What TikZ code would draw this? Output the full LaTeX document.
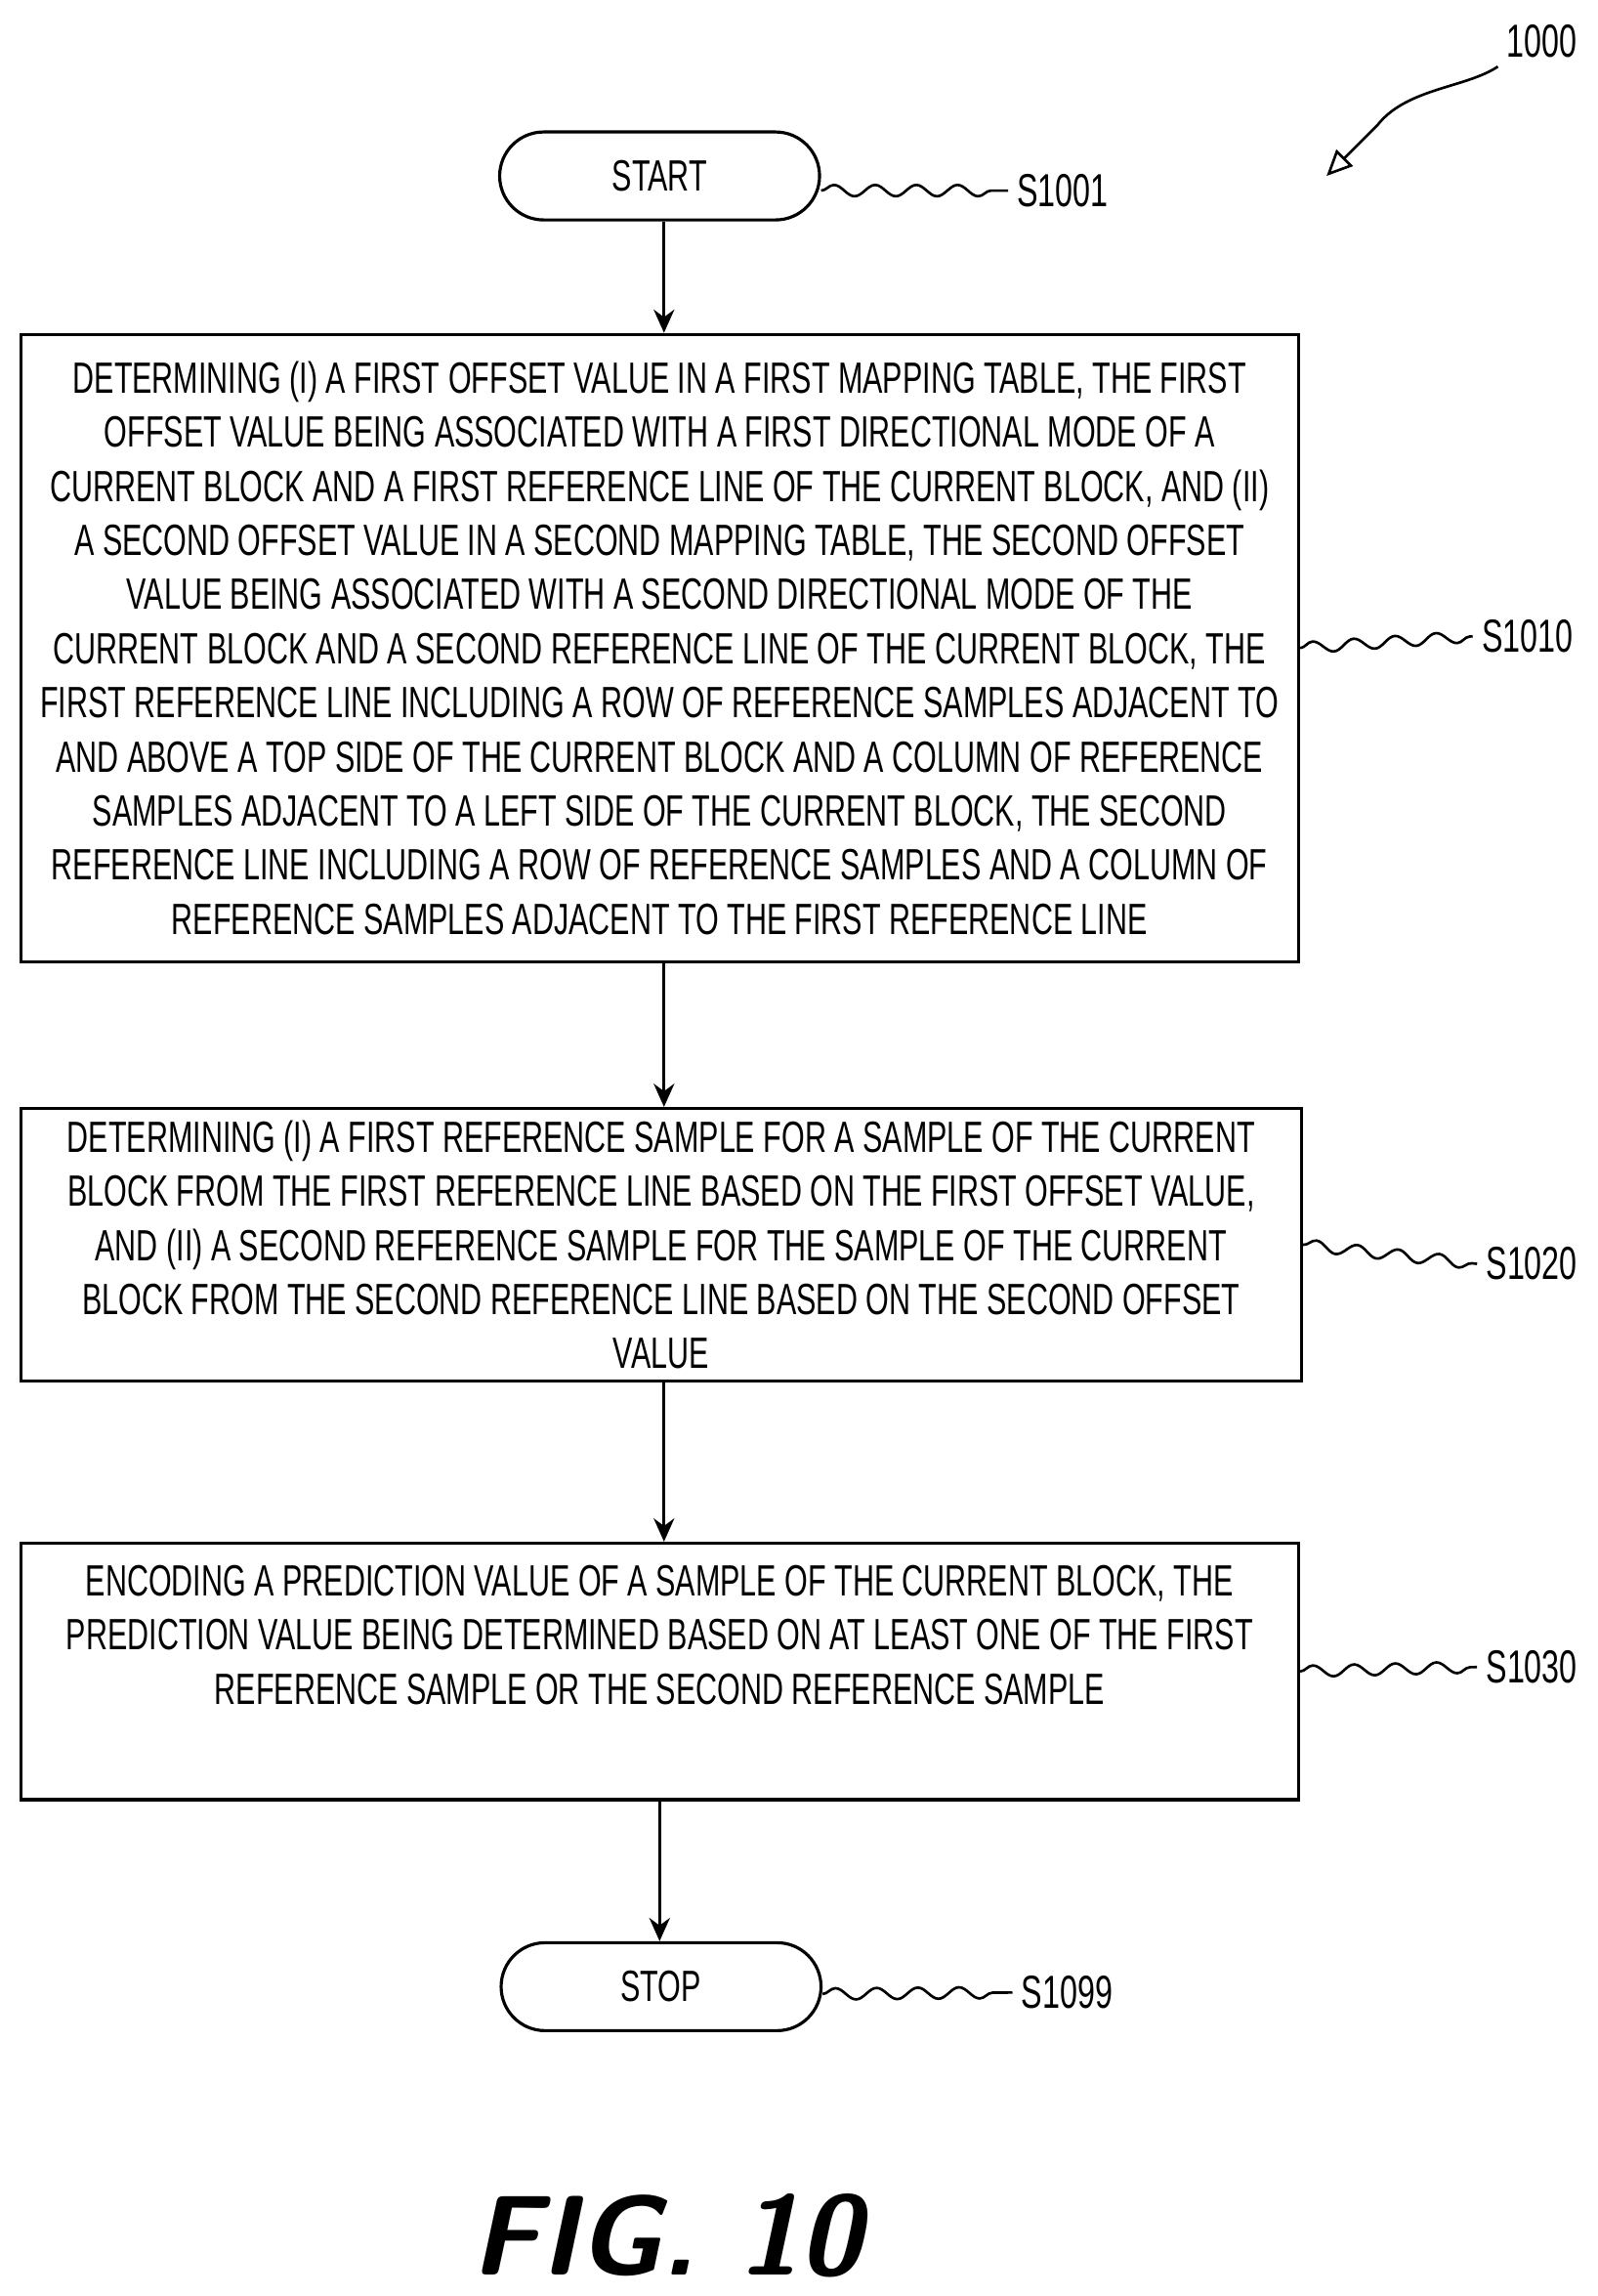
\documentclass[tikz,border=0pt]{standalone}
\usepackage{fontspec}
\setmainfont{Liberation Sans}[FakeStretch=0.68]
\usetikzlibrary{arrows.meta,shapes.misc,decorations.pathmorphing,positioning}

\begin{document}
\begin{tikzpicture}[x=0.02cm,y=-0.02cm,
    stepbox/.style={rectangle,draw,line width=1.2pt,align=center,font=\fontsize{17}{21}\selectfont,inner sep=0pt},
    term/.style={rounded rectangle,draw,line width=1.2pt,minimum width=4.6cm,minimum height=1.2cm,font=\fontsize{17}{21}\selectfont},
    lbl/.style={font=\fontsize{18}{21}\selectfont},
    arrow/.style={-{Stealth[length=9pt,width=8pt]},line width=1.2pt},
    wave/.style={line width=1pt,decorate,decoration={snake,amplitude=2.2pt,segment length=16pt}}
]
\useasboundingbox (0,0) rectangle (1090,1566);

% === Terminals and steps ===
\node[term] (start) at (450,120) {START};
\node[stepbox,minimum width=17.44cm,minimum height=8.56cm] (s1010) at (450,442) {DETERMINING (I) A FIRST OFFSET VALUE IN A FIRST MAPPING TABLE, THE FIRST\\OFFSET VALUE BEING ASSOCIATED WITH A FIRST DIRECTIONAL MODE OF A\\CURRENT BLOCK AND A FIRST REFERENCE LINE OF THE CURRENT BLOCK, AND (II)\\A SECOND OFFSET VALUE IN A SECOND MAPPING TABLE, THE SECOND OFFSET\\VALUE BEING ASSOCIATED WITH A SECOND DIRECTIONAL MODE OF THE\\CURRENT BLOCK AND A SECOND REFERENCE LINE OF THE CURRENT BLOCK, THE\\FIRST REFERENCE LINE INCLUDING A ROW OF REFERENCE SAMPLES ADJACENT TO\\AND ABOVE A TOP SIDE OF THE CURRENT BLOCK AND A COLUMN OF REFERENCE\\SAMPLES ADJACENT TO A LEFT SIDE OF THE CURRENT BLOCK, THE SECOND\\REFERENCE LINE INCLUDING A ROW OF REFERENCE SAMPLES AND A COLUMN OF\\REFERENCE SAMPLES ADJACENT TO THE FIRST REFERENCE LINE};
\node[stepbox,minimum width=17.48cm,minimum height=3.72cm] (s1020) at (451,849) {DETERMINING (I) A FIRST REFERENCE SAMPLE FOR A SAMPLE OF THE CURRENT\\BLOCK FROM THE FIRST REFERENCE LINE BASED ON THE FIRST OFFSET VALUE,\\AND (II) A SECOND REFERENCE SAMPLE FOR THE SAMPLE OF THE CURRENT\\BLOCK FROM THE SECOND REFERENCE LINE BASED ON THE SECOND OFFSET\\VALUE};
\node[stepbox,minimum width=17.44cm,minimum height=3.5cm,text depth=1.0cm] (s1030) at (450,1140) {ENCODING A PREDICTION VALUE OF A SAMPLE OF THE CURRENT BLOCK, THE\\PREDICTION VALUE BEING DETERMINED BASED ON AT LEAST ONE OF THE FIRST\\REFERENCE SAMPLE OR THE SECOND REFERENCE SAMPLE};
\node[term] (stop) at (451,1355) {STOP};

% === Connectors ===
\draw[arrow] (start.south -| 453,0) -- (s1010.north -| 453,0);
\draw[arrow] (s1010.south -| 453,0) -- (s1020.north -| 453,0);
\draw[arrow] (s1020.south -| 453,0) -- (s1030.north -| 453,0);
\draw[arrow] (s1030.south -| 450,0) -- (stop.north -| 450,0);

% === Step labels ===
\node[lbl] (l1001) at (725,130) {S1001};
\node[lbl] (l1010) at (1042,434) {S1010};
\node[lbl] (l1020) at (1045,862) {S1020};
\node[lbl] (l1030) at (1045,1137) {S1030};
\node[lbl] (l1099) at (728,1359) {S1099};
\draw[wave] (start.east) ++(0,10) -- (l1001.west);
\draw[wave] (s1010.east) -- (l1010.west);
\draw[wave] (s1020.east) -- (l1020.west);
\draw[wave] (s1030.east) -- (l1030.west);
\draw[wave] (stop.east) ++(0,5) -- (l1099.west);

% === Figure reference ===
\node[lbl] (ref) at (1052,28) {1000};
\coordinate (refend) at (905,120);
\draw[line width=1pt,-{Triangle[open,length=10pt,width=9pt]}] (ref.south west) .. controls (1000,60) and (960,60) .. (940,85) .. controls (925,100) .. (refend);

\node[font=\sffamily\bfseries\itshape\fontsize{44}{50}\selectfont] (fig) at (455,1525) {FIG. 10};
\end{tikzpicture}
\end{document}
